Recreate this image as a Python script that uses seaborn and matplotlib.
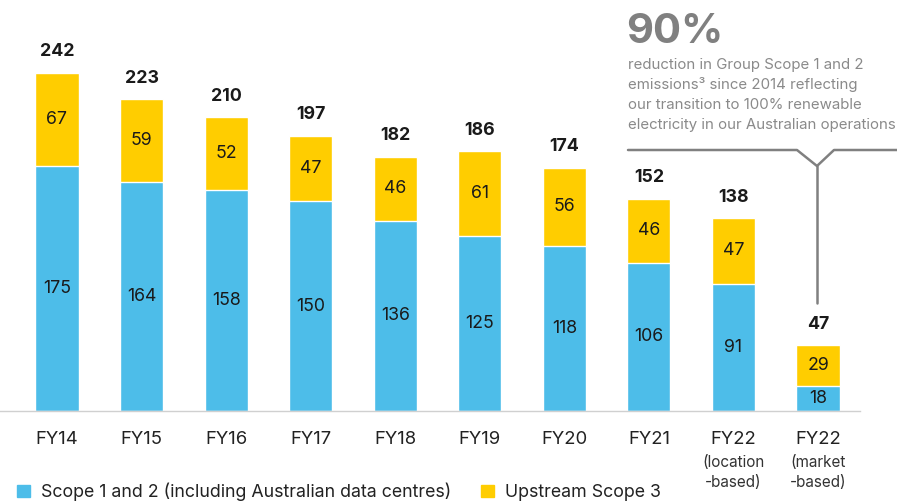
import pandas as pd
import matplotlib
matplotlib.use("Agg")
import matplotlib.pyplot as plt
from matplotlib.patches import Patch
from matplotlib.lines import Line2D
import seaborn as sns

# data
years = ["FY14", "FY15", "FY16", "FY17", "FY18", "FY19", "FY20", "FY21", "FY22", "FY22"]
year_notes = ["", "", "", "", "", "", "", "", "(location\n-based)", "(market\n-based)"]
scope12 = [175, 164, 158, 150, 136, 125, 118, 106, 91, 18]
scope3 = [67, 59, 52, 47, 46, 61, 56, 46, 47, 29]
totals = [242, 223, 210, 197, 182, 186, 174, 152, 138, 47]

blue = "#4dbde9"
yellow = "#ffcd00"
grey = "#808080"

keys = [f"{y} {n}" for y, n in zip(years, year_notes)]
df = pd.DataFrame({"key": keys, "scope12": scope12, "scope3": scope3, "total": totals})

sns.set_style("white")
plt.rcParams["font.family"] = ["Inter", "DejaVu Sans"]

W, H = 897, 501
fig = plt.figure(figsize=(W / 100, H / 100), dpi=100)
ax = fig.add_axes([0, 90 / H, 1, 411 / H])

sns.barplot(data=df, x="key", y="total", order=keys, color=yellow, saturation=1,
            width=0.51, ax=ax)
sns.barplot(data=df, x="key", y="scope12", order=keys, color=blue, saturation=1,
            width=0.51, ax=ax)

ax.set_xlim(-0.674, 9.934)
ax.set_ylim(0, 294)
ax.set_xlabel("")
ax.set_ylabel("")
ax.set_yticks([])
for s in ["top", "right", "left"]:
    ax.spines[s].set_visible(False)
ax.spines["bottom"].set_color("#d0d0d0")
ax.spines["bottom"].set_linewidth(1)
ax.spines["bottom"].set_bounds(-0.674, 9.5)

ax.set_xticks(range(len(years)))
ax.set_xticklabels(years, fontsize=13.3, color="#222222")
ax.tick_params(axis="x", length=0, pad=14.5)

for i, (a, b, t, note) in enumerate(zip(scope12, scope3, totals, year_notes)):
    ax.text(i, a / 2, str(a), ha="center", va="center", fontsize=12.8, color="#1a1a1a")
    ax.text(i, a + b / 2, str(b), ha="center", va="center", fontsize=12.8, color="#1a1a1a")
    ax.annotate(str(t), xy=(i, t), xytext=(0, 15), textcoords="offset points",
                ha="center", va="center", fontsize=12.8, fontweight="bold", color="#1a1a1a")
    if note:
        ax.annotate(note, xy=(i, 0), xytext=(0, -32), textcoords="offset points",
                    ha="center", va="top", fontsize=11, color="#333333",
                    linespacing=1.35, annotation_clip=False)

# callout in the top right corner (pixel positions converted to figure fractions)
def fx(px):
    return px / W


def fy(py):
    return 1 - py / H


fig.text(fx(626), fy(32), "90%", fontsize=30, fontweight="bold", color=grey,
         ha="left", va="center")
note_lines = [
    "reduction in Group Scope 1 and 2",
    "emissions\u00b3 since 2014 reflecting",
    "our transition to 100% renewable",
    "electricity in our Australian operations",
]
for k, line in enumerate(note_lines):
    fig.text(fx(628), fy(65 + 20 * k), line, fontsize=10.8, color="#8a8a8a",
             ha="left", va="center")

bx = [628, 797, 817, 834, 897]
by = [150, 150, 166, 150, 150]
fig.add_artist(Line2D([fx(v) for v in bx], [fy(v) for v in by], color=grey, lw=1.8))
fig.add_artist(Line2D([fx(817), fx(817)], [fy(166), fy(303)], color=grey, lw=1.8))

handles = [
    Patch(color=blue, label="Scope 1 and 2 (including Australian data centres)"),
    Patch(color=yellow, label="Upstream Scope 3"),
]
fig.legend(handles=handles, loc="center left", bbox_to_anchor=(fx(17), fy(492)),
           ncol=2, frameon=False, fontsize=12.8, handlelength=0.73, handleheight=0.73,
           handletextpad=0.6, columnspacing=1.72, borderpad=0, borderaxespad=0,
           labelcolor="#222222")

fig.savefig("out.png", dpi=100)
